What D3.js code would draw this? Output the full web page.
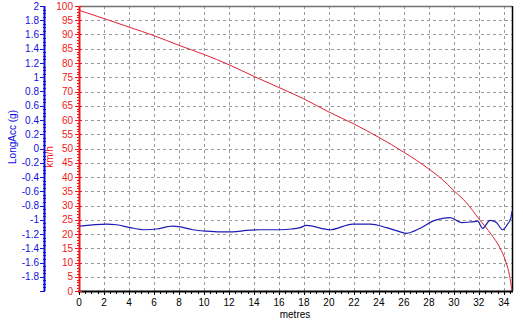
<!DOCTYPE html>
<html><head><meta charset="utf-8">
<script src="https://cdn.jsdelivr.net/npm/d3@7"></script>
<style>body{margin:0;background:#fff}text{font-family:"Liberation Sans",Arial,sans-serif}</style>
</head><body><svg id="c" width="523" height="327"></svg>
<script>
// Speed (km/h) vs distance (metres)
const speedDist = [0,2,4,6,8,10,12,14,16,18,20,22,24,26,28,29,30,31,32,33,33.7,34.2,34.45,34.65];
const speedKmh  = [98.5,95.6,92.6,89.6,86.2,83.0,79.4,75.3,71.4,67.4,62.8,58.6,53.9,48.7,42.8,39.4,35.2,31.0,25.3,19.8,15.0,9.7,5.5,0];
// Longitudinal acceleration (g) vs distance (metres)
const accDist = [0,2.2,3.0,4.1,5.3,6.2,7.5,8.1,9.1,10.2,11.3,12.3,13.4,14.5,16.1,17.0,17.7,18.2,20.1,21.9,23.3,24.6,25.7,26.2,27.3,28.3,29.1,29.7,30.6,31.4,31.9,32.3,32.9,33.4,33.9,34.3,34.55,34.65];
const accG    = [-1.09,-1.06,-1.07,-1.11,-1.14,-1.13,-1.09,-1.10,-1.14,-1.16,-1.17,-1.17,-1.15,-1.14,-1.14,-1.13,-1.11,-1.08,-1.14,-1.06,-1.06,-1.11,-1.17,-1.19,-1.12,-1.02,-0.98,-0.97,-1.04,-1.03,-1.02,-1.12,-1.01,-1.04,-1.14,-1.06,-0.98,-0.88];
// Tick labels
const xTickValues = [0,2,4,6,8,10,12,14,16,18,20,22,24,26,28,30,32,34];
const speedTickValues = [0,5,10,15,20,25,30,35,40,45,50,55,60,65,70,75,80,85,90,95,100];
const accTickValues = [-1.8,-1.6,-1.4,-1.2,-1,-0.8,-0.6,-0.4,-0.2,0,0.2,0.4,0.6,0.8,1,1.2,1.4,1.6,1.8,2];

const svg = d3.select("#c");
const L = 79, R = 512, T = 6, B = 291;
const x = d3.scaleLinear().domain([0,34.65]).range([L,R]);
const yS = d3.scaleLinear().domain([0,100]).range([B,T]);
const yA = d3.scaleLinear().domain([-2,2]).range([B,T]);
const BLUE = "#1010e0", RED = "#f01818";

// grid
const grid = svg.append("g").attr("stroke","#9a9a9a").attr("stroke-dasharray","3,3").attr("stroke-width",1);
xTickValues.filter(v=>v>0).forEach(v=>{
  grid.append("line").attr("x1",Math.round(x(v))+0.5).attr("x2",Math.round(x(v))+0.5).attr("y1",T).attr("y2",B);
});
speedTickValues.filter(v=>v>0 && v<100).forEach(v=>{
  grid.append("line").attr("y1",Math.round(yS(v))+0.5).attr("y2",Math.round(yS(v))+0.5).attr("x1",L).attr("x2",R);
});

// borders
svg.append("line").attr("x1",L).attr("x2",R).attr("y1",T+0.5).attr("y2",T+0.5).attr("stroke","#707070").attr("stroke-width",1.5);
svg.append("line").attr("x1",R+0.5).attr("x2",R+0.5).attr("y1",T).attr("y2",B).attr("stroke","#000").attr("stroke-width",1.5);

// data lines
const lineS = d3.line().x((d,i)=>x(speedDist[i])).y(d=>yS(d)).curve(d3.curveMonotoneX);
svg.append("path").attr("d",lineS(speedKmh)).attr("fill","none").attr("stroke","#e0203a").attr("stroke-width",1);
const lineA = d3.line().x((d,i)=>x(accDist[i])).y(d=>yA(d)).curve(d3.curveMonotoneX);
svg.append("path").attr("d",lineA(accG)).attr("fill","none").attr("stroke","#1c1cb4").attr("stroke-width",1.2);

// x axis
const xa = svg.append("g");
xa.append("line").attr("x1",L-1).attr("x2",R+1).attr("y1",B+0.5).attr("y2",B+0.5).attr("stroke","#000").attr("stroke-width",2);
d3.range(0,34.51,0.5).forEach(v=>{
  const major = Math.abs(v/2-Math.round(v/2))<1e-6;
  xa.append("line").attr("x1",Math.round(x(v))+0.5).attr("x2",Math.round(x(v))+0.5).attr("y1",B).attr("y2",B+(major?4:3)).attr("stroke","#000");
});
xTickValues.forEach(v=>{
  xa.append("text").attr("x",x(v)).attr("y",306).attr("text-anchor","middle").attr("font-size",10).attr("fill","#000").text(v);
});
xa.append("text").attr("x",295).attr("y",318).attr("text-anchor","middle").attr("font-size",10).attr("fill","#000").text("metres");

// speed axis (red)
const sa = svg.append("g");
sa.append("line").attr("x1",L+0.5).attr("x2",L+0.5).attr("y1",T).attr("y2",B).attr("stroke",RED).attr("stroke-width",2);
d3.range(0,100.01,1).forEach(v=>{
  const major = v%5===0;
  sa.append("line").attr("x1",L-(major?4:2)).attr("x2",L+(major?3:1)).attr("y1",Math.round(yS(v))+0.5).attr("y2",Math.round(yS(v))+0.5).attr("stroke",RED);
});
speedTickValues.forEach(v=>{
  sa.append("text").attr("x",73).attr("y",yS(v)+3.5).attr("text-anchor","end").attr("font-size",10).attr("fill",RED).text(v);
});
sa.append("text").attr("transform","translate(53,157) rotate(-90)").attr("text-anchor","middle").attr("font-size",10).attr("fill",RED).text("km/h");

// acc axis (blue)
const aa = svg.append("g");
aa.append("line").attr("x1",44.5).attr("x2",44.5).attr("y1",T).attr("y2",B).attr("stroke",BLUE).attr("stroke-width",2);
d3.range(-2,2.001,0.05).forEach(v=>{
  const major = Math.abs(v*5-Math.round(v*5))<1e-6;
  aa.append("line").attr("x1",44-(major?4:1)).attr("x2",45+(major?0:1)).attr("y1",Math.round(yA(v))+0.5).attr("y2",Math.round(yA(v))+0.5).attr("stroke",BLUE);
});
const fmt = v => String(+v.toFixed(1));
accTickValues.forEach(v=>{
  aa.append("text").attr("x",39).attr("y",yA(v)+3.5).attr("text-anchor","end").attr("font-size",10).attr("fill",BLUE).text(fmt(v));
});
aa.append("text").attr("transform","translate(16,137) rotate(-90)").attr("text-anchor","middle").attr("font-size",10).attr("fill",BLUE).text("LongAcc (g)");
</script></body></html>
